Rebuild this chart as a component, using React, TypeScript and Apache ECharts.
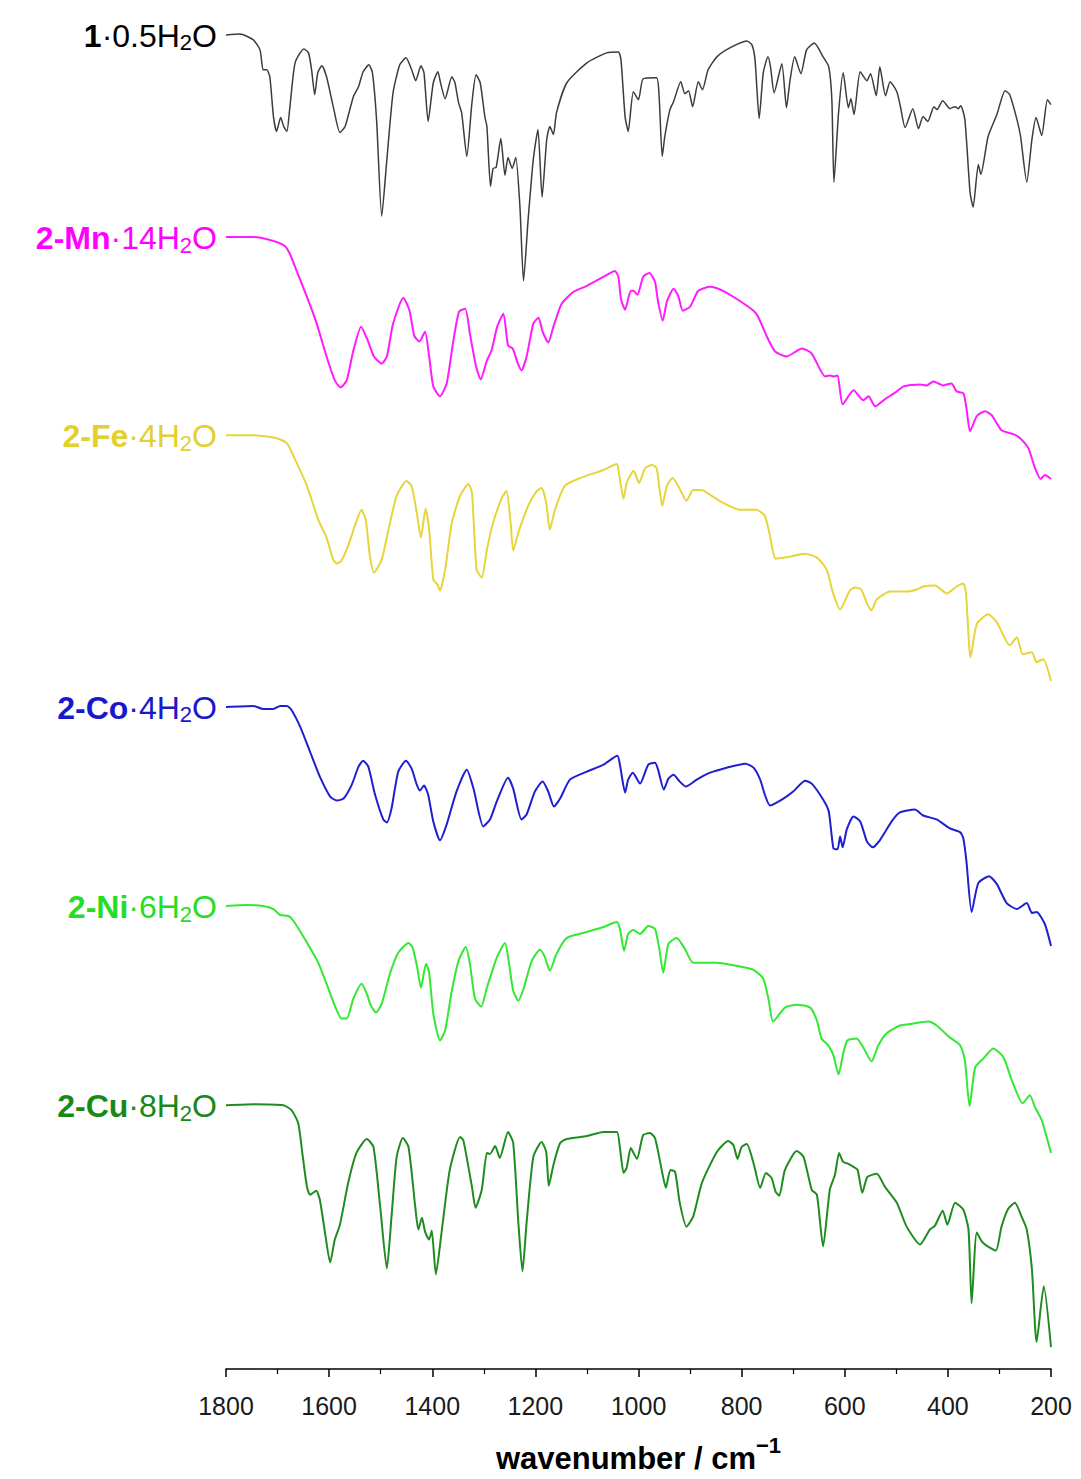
import React, { useEffect, useRef } from "react";
import * as echarts from "echarts";

// IR spectra: [wavenumber (cm^-1), transmittance (a.u., traces offset vertically)]
const ligandSpectrum: [number, number][] = [
  [1800, 134.0], [1773, 134.1], [1747, 133.5], [1734, 132.5], [1728, 130.5], [1721, 130.5], [1715, 129.8],
  [1708, 125.8], [1702, 124.3], [1694, 125.7], [1688, 124.8], [1682, 124.3], [1676, 126.8], [1666, 131.2],
  [1649, 132.6], [1640, 132.2], [1634, 130.5], [1628, 128.0], [1622, 130.2], [1614, 130.9], [1605, 129.8],
  [1592, 126.8], [1579, 124.2], [1569, 124.8], [1553, 127.8], [1543, 128.8], [1534, 130.3], [1523, 131.0],
  [1516, 130.2], [1508, 125.5], [1498, 115.8], [1488, 121.5], [1476, 128.2], [1463, 131.0], [1451, 131.7],
  [1440, 130.5], [1432, 129.4], [1422, 130.9], [1416, 130.2], [1408, 125.3], [1398, 129.2], [1389, 130.3],
  [1384, 129.2], [1375, 127.6], [1362, 129.8], [1356, 129.2], [1349, 127.2], [1343, 126.2], [1333, 121.8],
  [1323, 127.2], [1315, 130.0], [1307, 129.2], [1298, 125.8], [1294, 124.8], [1287, 118.8], [1282, 120.6],
  [1276, 120.7], [1267, 123.6], [1259, 119.9], [1253, 121.7], [1245, 120.6], [1238, 121.7], [1230, 116.8],
  [1223, 109.3], [1214, 115.5], [1204, 121.5], [1195, 124.5], [1187, 117.7], [1178, 123.5], [1172, 124.8],
  [1165, 124.0], [1159, 126.2], [1139, 129.2], [1100, 131.2], [1062, 132.2], [1039, 132.3], [1034, 131.5],
  [1026, 125.8], [1020, 124.3], [1010, 128.3], [1000, 127.5], [991, 129.6], [965, 129.7], [960, 127.8],
  [954, 121.8], [949, 123.8], [939, 126.5], [932, 127.3], [918, 129.3], [910, 128.1], [903, 128.4],
  [895, 126.8], [884, 129.3], [876, 128.5], [865, 130.5], [848, 131.8], [823, 132.7], [790, 133.4],
  [780, 133.0], [774, 131.5], [766, 125.6], [758, 130.2], [749, 131.8], [744, 130.8], [737, 128.2],
  [722, 131.1], [713, 126.7], [706, 129.5], [697, 131.8], [685, 130.1], [674, 132.5], [659, 133.2],
  [642, 131.8], [631, 130.8], [625, 127.5], [621, 119.2], [612, 126.2], [603, 130.2], [593, 126.7],
  [588, 127.6], [582, 126.0], [570, 130.3], [557, 129.4], [550, 130.1], [539, 127.9], [532, 130.8],
  [521, 127.9], [512, 129.3], [499, 128.3], [492, 126.8], [483, 124.7], [468, 126.6], [457, 124.6],
  [448, 125.8], [439, 125.3], [427, 126.8], [421, 126.5], [410, 127.4], [396, 126.6], [386, 126.8],
  [380, 126.6], [375, 126.9], [367, 125.5], [357, 118.2], [351, 116.7], [341, 121.0], [336, 120.0],
  [322, 123.8], [305, 126.0], [289, 128.4], [280, 128.0], [266, 125.5], [259, 123.8], [247, 119.2],
  [237, 123.5], [229, 125.7], [218, 123.9], [207, 127.5], [200, 127.0],
];

const mnSpectrum: [number, number][] = [
  [1800, 113.7], [1747, 113.7], [1708, 113.3], [1686, 112.8], [1676, 112.0], [1663, 110.3], [1640, 107.3],
  [1624, 105.0], [1605, 101.7], [1589, 99.3], [1578, 98.6], [1566, 99.3], [1553, 102.3], [1538, 104.7],
  [1525, 103.3], [1513, 101.7], [1498, 101.0], [1488, 101.7], [1476, 105.0], [1456, 107.6], [1444, 106.3],
  [1435, 103.8], [1425, 103.2], [1414, 104.2], [1406, 101.7], [1398, 98.7], [1385, 97.7], [1372, 99.0],
  [1359, 103.3], [1348, 106.2], [1336, 106.5], [1327, 104.0], [1315, 100.7], [1306, 99.4], [1294, 101.3],
  [1285, 102.3], [1274, 104.7], [1262, 106.0], [1253, 102.8], [1244, 102.5], [1234, 101.0], [1227, 100.3],
  [1217, 101.7], [1204, 105.0], [1194, 105.6], [1186, 104.2], [1175, 103.1], [1165, 104.7], [1149, 107.0],
  [1126, 108.2], [1100, 108.8], [1068, 109.7], [1046, 110.3], [1039, 109.7], [1034, 107.5], [1026, 106.4],
  [1015, 108.3], [1010, 108.3], [1002, 107.9], [991, 109.7], [979, 110.1], [968, 109.2], [962, 107.2],
  [953, 105.3], [945, 107.2], [932, 108.5], [923, 107.8], [914, 106.3], [900, 106.7], [884, 108.3],
  [861, 108.7], [836, 108.3], [810, 107.5], [777, 106.3], [768, 105.7], [751, 103.7], [735, 102.2],
  [713, 101.7], [683, 102.5], [664, 102.0], [638, 99.7], [629, 99.8], [621, 99.7], [614, 99.8],
  [604, 96.9], [583, 98.3], [564, 97.3], [554, 97.7], [541, 96.7], [525, 97.3], [499, 98.2],
  [486, 98.7], [454, 98.9], [441, 98.8], [428, 99.2], [409, 98.8], [393, 99.0], [383, 98.2],
  [370, 98.0], [364, 96.5], [357, 94.2], [344, 95.7], [328, 96.2], [315, 95.8], [296, 94.3],
  [273, 93.9], [260, 93.5], [244, 92.5], [231, 90.5], [220, 89.4], [212, 89.8], [200, 89.4],
];

const feSpectrum: [number, number][] = [
  [1800, 93.8], [1747, 93.8], [1702, 93.5], [1682, 93.0], [1669, 91.7], [1643, 88.7], [1621, 85.3],
  [1605, 83.5], [1592, 81.3], [1585, 80.9], [1576, 81.2], [1563, 82.7], [1550, 84.7], [1537, 86.3],
  [1529, 85.3], [1521, 81.7], [1513, 80.0], [1498, 81.3], [1485, 84.3], [1469, 87.7], [1450, 89.2],
  [1440, 88.7], [1430, 86.0], [1422, 83.5], [1413, 86.4], [1406, 84.3], [1398, 79.3], [1390, 78.8],
  [1385, 78.2], [1375, 80.3], [1362, 85.0], [1346, 87.7], [1330, 88.9], [1323, 88.0], [1314, 80.3],
  [1304, 79.5], [1294, 82.3], [1282, 85.0], [1265, 87.5], [1256, 88.2], [1248, 85.0], [1243, 82.2],
  [1233, 84.0], [1214, 86.7], [1197, 88.2], [1188, 88.5], [1179, 87.0], [1172, 84.3], [1162, 86.3],
  [1143, 88.7], [1113, 89.5], [1068, 90.3], [1042, 90.9], [1038, 90.0], [1029, 87.4], [1023, 89.0],
  [1012, 90.1], [1009, 90.2], [999, 89.0], [987, 90.5], [974, 90.8], [965, 90.5], [960, 88.7],
  [954, 86.7], [945, 88.7], [934, 89.5], [920, 88.4], [907, 87.2], [894, 88.3], [877, 88.3],
  [861, 87.8], [836, 87.0], [803, 86.3], [771, 86.3], [755, 85.7], [745, 83.7], [734, 81.4],
  [706, 81.6], [677, 81.9], [654, 81.5], [635, 80.3], [623, 78.0], [609, 76.3], [590, 78.2],
  [580, 78.5], [568, 78.3], [556, 76.8], [548, 76.2], [538, 77.3], [512, 78.1], [480, 78.1],
  [460, 78.3], [448, 78.6], [425, 78.7], [402, 77.9], [383, 78.6], [370, 78.9], [365, 78.0],
  [356, 71.5], [344, 74.8], [322, 75.8], [305, 75.0], [280, 72.7], [266, 73.5], [255, 71.8],
  [237, 72.0], [228, 71.0], [215, 71.3], [200, 69.1],
];

const coSpectrum: [number, number][] = [
  [1800, 66.5], [1747, 66.6], [1728, 66.3], [1708, 66.3], [1695, 66.6], [1682, 66.6], [1673, 66.2],
  [1656, 64.5], [1637, 62.0], [1618, 59.5], [1598, 57.5], [1585, 57.1], [1572, 57.3], [1556, 58.7],
  [1543, 60.5], [1534, 61.1], [1524, 60.5], [1511, 57.7], [1495, 55.2], [1488, 54.9], [1479, 56.3],
  [1466, 60.0], [1451, 61.1], [1440, 60.3], [1430, 58.7], [1424, 58.1], [1416, 58.6], [1408, 57.7],
  [1398, 55.0], [1385, 53.1], [1372, 54.7], [1353, 58.0], [1333, 60.2], [1320, 58.3], [1301, 54.5],
  [1288, 55.2], [1275, 57.0], [1253, 59.4], [1243, 58.3], [1227, 55.2], [1217, 55.7], [1201, 58.0],
  [1186, 59.0], [1175, 58.0], [1164, 56.5], [1152, 57.3], [1133, 59.2], [1100, 60.0], [1068, 60.7],
  [1041, 61.6], [1036, 60.7], [1026, 57.9], [1020, 59.2], [1011, 59.9], [997, 58.8], [981, 60.7],
  [968, 60.9], [962, 60.2], [951, 58.2], [942, 59.3], [932, 59.7], [920, 59.0], [908, 58.5],
  [887, 59.2], [861, 59.9], [829, 60.4], [793, 60.8], [777, 60.4], [764, 59.2], [755, 57.7],
  [745, 56.6], [719, 57.3], [700, 58.0], [677, 59.1], [664, 58.8], [642, 57.2], [631, 56.0],
  [622, 52.3], [614, 52.2], [609, 53.5], [604, 52.4], [596, 54.2], [583, 55.5], [570, 55.0],
  [557, 53.0], [546, 52.4], [532, 53.1], [509, 55.0], [493, 55.9], [464, 56.2], [448, 55.6],
  [422, 55.2], [396, 54.3], [376, 53.9], [370, 53.3], [364, 51.0], [354, 45.9], [341, 48.8],
  [320, 49.5], [305, 48.7], [286, 46.8], [266, 46.2], [247, 46.8], [237, 45.8], [228, 45.9],
  [212, 44.7], [200, 42.5],
];

const niSpectrum: [number, number][] = [
  [1800, 46.5], [1760, 46.6], [1728, 46.5], [1708, 46.2], [1695, 45.6], [1679, 45.5], [1669, 45.0],
  [1653, 43.7], [1637, 42.3], [1621, 40.8], [1605, 38.7], [1589, 36.5], [1576, 35.2], [1566, 35.2],
  [1553, 37.2], [1537, 38.7], [1527, 37.7], [1519, 36.5], [1509, 35.8], [1498, 36.7], [1482, 39.7],
  [1466, 41.8], [1446, 42.8], [1438, 42.3], [1429, 40.3], [1422, 38.3], [1412, 40.7], [1406, 39.8],
  [1398, 35.7], [1385, 33.0], [1375, 34.0], [1362, 38.0], [1349, 41.0], [1335, 42.4], [1327, 40.7],
  [1317, 37.2], [1305, 36.4], [1294, 38.3], [1275, 41.3], [1259, 42.8], [1251, 40.7], [1243, 38.0],
  [1233, 37.0], [1223, 38.2], [1207, 41.0], [1191, 42.1], [1181, 41.3], [1172, 40.0], [1159, 41.7],
  [1139, 43.3], [1100, 43.9], [1068, 44.4], [1042, 44.9], [1036, 44.2], [1028, 42.0], [1020, 43.7],
  [1010, 44.1], [997, 43.7], [981, 44.5], [968, 44.2], [960, 42.3], [952, 39.8], [942, 42.7],
  [926, 43.3], [910, 42.2], [894, 40.8], [848, 40.8], [810, 40.5], [777, 40.1], [758, 39.2],
  [748, 37.2], [739, 34.9], [716, 36.3], [693, 36.6], [667, 36.3], [654, 35.0], [645, 33.2],
  [632, 32.5], [622, 31.5], [612, 29.6], [603, 31.7], [595, 33.0], [577, 33.2], [564, 32.3],
  [548, 30.9], [535, 32.5], [519, 33.7], [493, 34.5], [467, 34.7], [438, 34.9], [422, 34.5],
  [396, 33.3], [376, 32.5], [367, 31.0], [358, 26.4], [347, 30.3], [331, 31.2], [312, 32.2],
  [292, 31.3], [276, 29.0], [255, 26.7], [241, 27.5], [231, 26.3], [218, 25.0], [200, 21.7],
];

const cuSpectrum: [number, number][] = [
  [1800, 26.5], [1747, 26.6], [1689, 26.5], [1673, 26.0], [1660, 24.7], [1651, 21.3], [1643, 18.3],
  [1637, 17.5], [1625, 17.9], [1618, 17.0], [1608, 13.7], [1598, 10.7], [1589, 13.0], [1579, 14.5],
  [1563, 18.7], [1547, 21.7], [1527, 23.1], [1514, 22.3], [1501, 16.3], [1488, 10.1], [1479, 15.3],
  [1469, 21.3], [1457, 23.2], [1446, 22.3], [1433, 16.3], [1427, 14.0], [1420, 15.2], [1414, 13.8],
  [1406, 13.0], [1401, 13.9], [1393, 9.5], [1382, 13.7], [1366, 20.0], [1346, 23.3], [1340, 23.0],
  [1333, 21.2], [1323, 18.3], [1316, 16.2], [1304, 18.0], [1294, 21.7], [1288, 21.6], [1278, 22.4],
  [1269, 21.2], [1253, 23.8], [1243, 22.7], [1233, 14.7], [1225, 9.8], [1217, 14.7], [1204, 21.3],
  [1188, 22.8], [1179, 21.8], [1174, 18.4], [1165, 20.5], [1152, 22.7], [1139, 23.1], [1100, 23.4],
  [1068, 23.8], [1042, 23.8], [1036, 22.2], [1029, 19.7], [1023, 20.2], [1015, 22.2], [1003, 21.1],
  [991, 23.5], [978, 23.7], [968, 23.2], [955, 20.0], [947, 18.2], [938, 20.0], [929, 19.8],
  [920, 16.7], [907, 14.3], [894, 15.3], [877, 18.7], [848, 21.8], [826, 22.9], [816, 22.5],
  [808, 21.1], [800, 22.3], [790, 22.6], [777, 20.7], [764, 18.2], [753, 19.7], [742, 19.2],
  [734, 17.8], [727, 17.4], [716, 20.0], [693, 21.9], [680, 21.3], [664, 18.0], [654, 17.5],
  [642, 12.3], [629, 18.0], [619, 19.5], [611, 21.7], [603, 20.8], [593, 20.6], [583, 20.3],
  [575, 20.0], [566, 17.7], [556, 19.3], [538, 19.6], [522, 18.3], [499, 16.7], [480, 14.3],
  [454, 12.5], [435, 14.0], [425, 14.4], [410, 15.9], [401, 14.5], [386, 16.7], [370, 16.0],
  [360, 14.0], [354, 6.6], [344, 13.7], [334, 12.8], [325, 12.4], [307, 11.9], [296, 14.3],
  [283, 16.1], [270, 16.7], [257, 15.3], [247, 14.0], [237, 10.0], [228, 2.7], [214, 8.3],
  [200, 2.2],
];

// Compound labels: bold part, lattice water count
const compoundCodes = ["1", "2-Mn", "2-Fe", "2-Co", "2-Ni", "2-Cu"];
const waterCounts = ["0.5", "14", "4", "4", "6", "8"];
const lineColors = ["#3c3c3c", "#ff1aff", "#e6d53a", "#1f1fd0", "#33e833", "#1f8c1f"];
const labelColors = ["#000000", "#ff00ff", "#e2cf30", "#1818cc", "#26dd26", "#188818"];
const lineWidths = [1.5, 2, 2, 2, 2, 2];
const spectra = [ligandSpectrum, mnSpectrum, feSpectrum, coSpectrum, niSpectrum, cuSpectrum];

const FONT = "'Liberation Sans', Arial, Helvetica, sans-serif";

export default function App() {
  const ref = useRef<HTMLDivElement>(null);

  useEffect(() => {
    if (!ref.current) return;
    document.documentElement.style.overflow = "hidden";
    document.body.style.overflow = "hidden";
    const chart = echarts.init(ref.current, undefined, { renderer: "svg" });

    chart.setOption({
      animation: false,
      backgroundColor: "#ffffff",
      grid: { left: 226, right: 30, top: 25, bottom: 104, containLabel: false },
      xAxis: {
        type: "value",
        min: 200,
        max: 1800,
        interval: 200,
        inverse: true,
        name: "{b|wavenumber / cm}{sup|\u22121}",
        nameLocation: "middle",
        nameGap: 65,
        nameTextStyle: {
          rich: {
            b: { fontFamily: FONT, fontSize: 31, fontWeight: "bold", color: "#000", lineHeight: 40, verticalAlign: "bottom" },
            sup: { fontFamily: FONT, fontSize: 22, fontWeight: "bold", color: "#000", verticalAlign: "top" },
          },
        },
        axisLine: { show: true, lineStyle: { color: "#000", width: 1.5 } },
        axisTick: { show: true, inside: false, length: 8, lineStyle: { color: "#000", width: 1.5 } },
        minorTick: { show: true, splitNumber: 2, length: 5, lineStyle: { color: "#000", width: 1.2 } },
        splitLine: { show: false },
        axisLabel: {
          fontFamily: FONT,
          fontSize: 25,
          color: "#1a1a1a",
          margin: 24,
          formatter: (v: number) => String(v),
        },
      },
      yAxis: { type: "value", min: 0, max: 135, show: false },
      series: spectra.map((data, i) => ({
        type: "line",
        data,
        showSymbol: false,
        smooth: 0.2,
        clip: false,
        lineStyle: { color: lineColors[i], width: lineWidths[i] },
        z: 2 + i,
      })),
    });

    // compound labels placed just left of each trace's starting point
    const graphics = spectra.map((data, i) => {
      const pt = chart.convertToPixel({ xAxisIndex: 0, yAxisIndex: 0 }, data[0]) as number[];
      const c = labelColors[i];
      return {
        type: "text",
        x: pt[0] - 9,
        y: pt[1] + 1,
        silent: true,
        style: {
          text: `{b|${compoundCodes[i]}}{n|\u00b7${waterCounts[i]}H}{s|2}{n|O}`,
          align: "right",
          verticalAlign: "middle",
          fill: c,
          rich: {
            b: { fontFamily: FONT, fontSize: 32, fontWeight: "bold", fill: c, lineHeight: 36 },
            n: { fontFamily: FONT, fontSize: 32, fill: c, lineHeight: 36 },
            s: { fontFamily: FONT, fontSize: 22, fill: c, lineHeight: 14, verticalAlign: "bottom" },
          },
        },
      };
    });
    chart.setOption({ graphic: graphics });

    return () => chart.dispose();
  }, []);

  return (
    <div
      ref={ref}
      style={{
        position: "absolute",
        left: 0,
        top: 0,
        width: 1081,
        height: 1479,
        overflow: "hidden",
        background: "#fff",
      }}
    />
  );
}
